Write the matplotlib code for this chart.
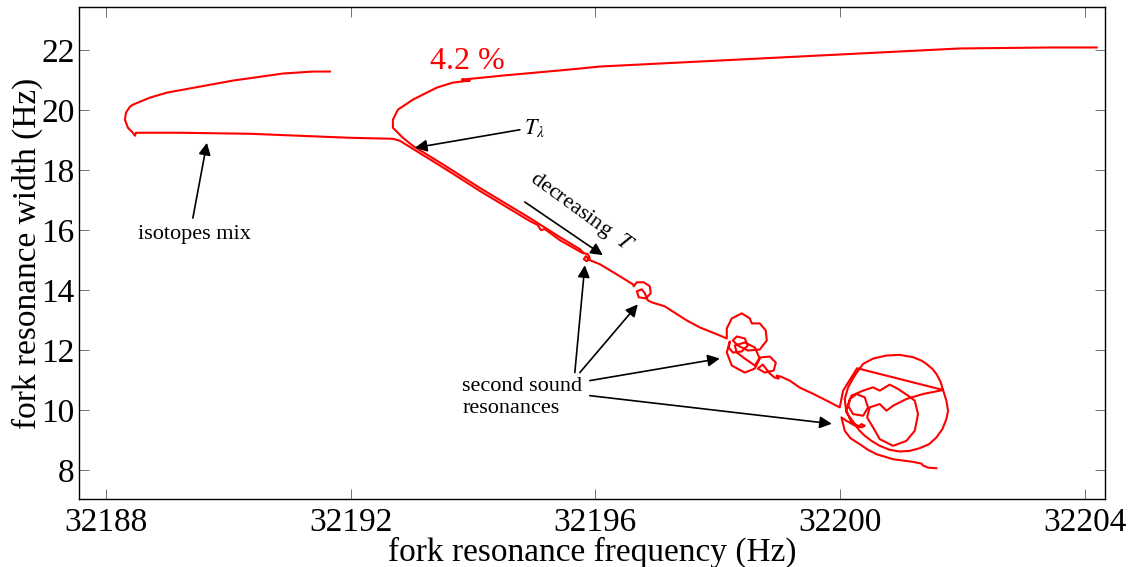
import numpy as np
import matplotlib.pyplot as plt

plt.rcParams['font.family'] = ['Liberation Serif', 'DejaVu Serif']
plt.rcParams['mathtext.fontset'] = 'stix'

# (frequency Hz, width Hz)
mix = [(32191.660, 21.297), (32191.382, 21.297), (32190.892, 21.230), (32190.075, 20.995),
       (32189.536, 20.794), (32188.997, 20.593), (32188.719, 20.426), (32188.441, 20.192),
       (32188.392, 20.125), (32188.327, 19.924), (32188.310, 19.689), (32188.359, 19.421),
       (32188.441, 19.254), (32188.474, 19.153), (32188.490, 19.254), (32189.209, 19.254),
       (32190.353, 19.220), (32191.170, 19.153), (32191.987, 19.086), (32192.690, 19.053),
       (32192.804, 18.986), (32193.016, 18.718), (32193.572, 18.015), (32194.111, 17.311),
       (32194.438, 16.910), (32194.928, 16.307), (32195.059, 16.173), (32195.108, 16.005),
       (32195.173, 16.039), (32195.418, 15.670), (32195.794, 15.235)]

upper = [(32204.193, 22.100), (32203.425, 22.100), (32201.954, 22.067), (32200.974, 21.967),
         (32199.340, 21.799), (32197.706, 21.632), (32196.072, 21.464), (32195.582, 21.364),
         (32194.487, 21.163), (32193.997, 21.062), (32193.817, 21.029), (32193.948, 20.995),
         (32193.670, 20.928), (32193.408, 20.761), (32193.016, 20.359), (32192.771, 20.024),
         (32192.690, 19.689), (32192.690, 19.421), (32192.853, 19.086)]

diag = [(32193.016, 18.818), (32193.572, 18.115), (32194.111, 17.412), (32194.438, 17.010),
        (32194.928, 16.407), (32195.418, 15.771), (32195.745, 15.369), (32195.810, 15.235),
        (32195.876, 15.202), (32195.908, 15.068), (32195.859, 14.967), (32195.810, 15.034),
        (32195.843, 15.135), (32195.908, 15.001), (32196.072, 14.867), (32196.399, 14.465),
        (32196.611, 14.197), (32196.627, 14.130), (32196.676, 14.264), (32196.791, 14.264),
        (32196.889, 14.130), (32196.905, 13.896), (32196.824, 13.728), (32196.709, 13.762),
        (32196.676, 13.963), (32196.758, 14.029), (32196.807, 13.896), (32196.856, 13.661),
        (32196.922, 13.594), (32197.134, 13.460), (32197.493, 12.991)]

mid = [(32197.706, 12.757), (32197.951, 12.556), (32198.147, 12.389), (32198.147, 12.723),
       (32198.229, 13.058), (32198.392, 13.226), (32198.523, 13.058), (32198.556, 12.891),
       (32198.686, 12.891), (32198.784, 12.656), (32198.801, 12.322), (32198.686, 12.020),
       (32198.490, 11.987), (32198.327, 12.154), (32198.245, 12.322), (32198.310, 12.455),
       (32198.441, 12.389), (32198.490, 12.154), (32198.392, 11.953), (32198.245, 11.920),
       (32198.180, 12.087), (32198.196, 12.288), (32198.147, 11.920), (32198.229, 11.484),
       (32198.441, 11.250), (32198.605, 11.384), (32198.686, 11.719), (32198.605, 12.087),
       (32198.441, 12.255), (32198.278, 12.154), (32198.310, 11.920), (32198.441, 11.719),
       (32198.605, 11.484), (32198.686, 11.752), (32198.850, 11.786), (32198.948, 11.585),
       (32198.915, 11.317), (32198.768, 11.250), (32198.654, 11.384), (32198.735, 11.518),
       (32198.850, 11.216), (32198.931, 11.082), (32198.997, 11.049), (32198.964, 11.149),
       (32199.029, 11.116), (32199.176, 10.982), (32199.340, 10.747), (32199.552, 10.547),
       (32199.748, 10.346)]

big = [(32199.993, 10.088), (32200.048, 10.647), (32200.184, 11.093), (32200.277, 11.395),
       (32201.682, 10.669), (32201.736, 10.312), (32201.764, 9.977), (32201.736, 9.698),
       (32201.671, 9.363), (32201.573, 9.084), (32201.453, 8.860), (32201.301, 8.727),
       (32201.137, 8.637), (32200.974, 8.615), (32200.810, 8.671), (32200.647, 8.805),
       (32200.511, 8.972), (32200.402, 9.140), (32200.309, 9.329), (32200.238, 9.530),
       (32200.102, 9.921), (32200.075, 10.368), (32200.130, 10.758), (32200.238, 11.149),
       (32200.375, 11.540), (32200.538, 11.718), (32200.756, 11.819), (32200.974, 11.841),
       (32201.192, 11.763), (32201.328, 11.651), (32201.410, 11.540), (32201.508, 11.372),
       (32201.573, 11.205), (32201.638, 10.959), (32201.682, 10.669),
       (32201.355, 10.535), (32201.083, 10.368), (32200.865, 10.144), (32200.756, 9.977),
       (32200.647, 10.200), (32200.484, 10.088), (32200.440, 9.754), (32200.538, 9.419),
       (32200.647, 9.028), (32200.865, 8.805), (32201.083, 8.972), (32201.219, 9.307),
       (32201.273, 9.865), (32201.219, 10.312), (32201.110, 10.479), (32200.947, 10.702),
       (32200.810, 10.848), (32200.647, 10.647), (32200.538, 10.758), (32200.375, 10.647),
       (32200.184, 10.479), (32200.130, 10.144), (32200.211, 9.865), (32200.375, 9.809),
       (32200.456, 10.088), (32200.402, 10.423), (32200.266, 10.535), (32200.157, 10.368),
       (32200.102, 9.977), (32200.184, 9.586), (32200.347, 9.419), (32200.402, 9.474),
       (32200.347, 9.530), (32200.293, 9.419), (32200.102, 9.642), (32200.021, 9.754),
       (32200.075, 9.307), (32200.168, 9.061), (32200.320, 8.860), (32200.456, 8.671),
       (32200.593, 8.526), (32200.865, 8.358), (32201.192, 8.269), (32201.328, 8.213),
       (32201.355, 8.146), (32201.437, 8.079), (32201.573, 8.057)]

xticks = [32188, 32192, 32196, 32200, 32204]
yticks = [8, 10, 12, 14, 16, 18, 20, 22]

# arrows: (tail, head)
arrows = [((32194.765, 19.354), (32193.049, 18.752)),
          ((32189.420, 16.407), (32189.650, 18.919)),
          ((32194.846, 16.943), (32196.121, 15.168)),
          ((32195.663, 11.250), (32195.827, 14.833)),
          ((32195.745, 11.250), (32196.693, 13.527)),
          ((32195.908, 10.982), (32198.033, 11.719)),
          ((32195.908, 10.480), (32199.863, 9.542))]

red = '#ff0000'

fig = plt.figure(figsize=(11.34, 5.67), dpi=100)
ax = fig.add_axes([0.0697, 0.1199, 0.9048, 0.8677])

main = np.array(upper + diag + mid + big)
ax.plot(main[:, 0], main[:, 1], color=red, lw=1.5)
mm = np.array(mix)
ax.plot(mm[:, 0], mm[:, 1], color=red, lw=1.5)

for tail, head in arrows:
    ax.annotate('', xy=head, xytext=tail,
                arrowprops=dict(arrowstyle='-|>', color='k', lw=1.2,
                                mutation_scale=18, shrinkA=0, shrinkB=0))

ax.text(32193.90, 21.62, '4.2 %', color=red, fontsize=23, ha='center', va='center')
ax.text(32195.01, 19.42, r'$T_\lambda$', fontsize=16, ha='center', va='center')
ax.text(32189.45, 15.87, 'isotopes mix', fontsize=16, ha='center', va='center')
ax.text(32195.78, 16.61, r'decreasing  $T$', fontsize=16, ha='center', va='center',
        rotation=-36, rotation_mode='anchor')
ax.text(32193.82, 10.41, 'second sound\nresonances', fontsize=16, ha='left', va='center',
        linespacing=1.2)

ax.set_xlim(32187.56, 32204.33)
ax.set_ylim(7.03, 23.45)
ax.set_xticks(xticks)
ax.set_xticklabels([str(t) for t in xticks])
ax.set_yticks(yticks)
ax.set_yticklabels([str(t) for t in yticks])
ax.tick_params(direction='in', top=True, right=True, length=7, width=0.6,
               color='0.35', labelsize=24)
ax.tick_params(axis='x', pad=6)
ax.tick_params(axis='y', pad=3)
for s in ax.spines.values():
    s.set_linewidth(1.0)

ax.set_xlabel('fork resonance frequency (Hz)', fontsize=24, labelpad=-1)
ax.set_ylabel('fork resonance width (Hz)', fontsize=24, labelpad=-1)

fig.savefig('out.png', dpi=100)
